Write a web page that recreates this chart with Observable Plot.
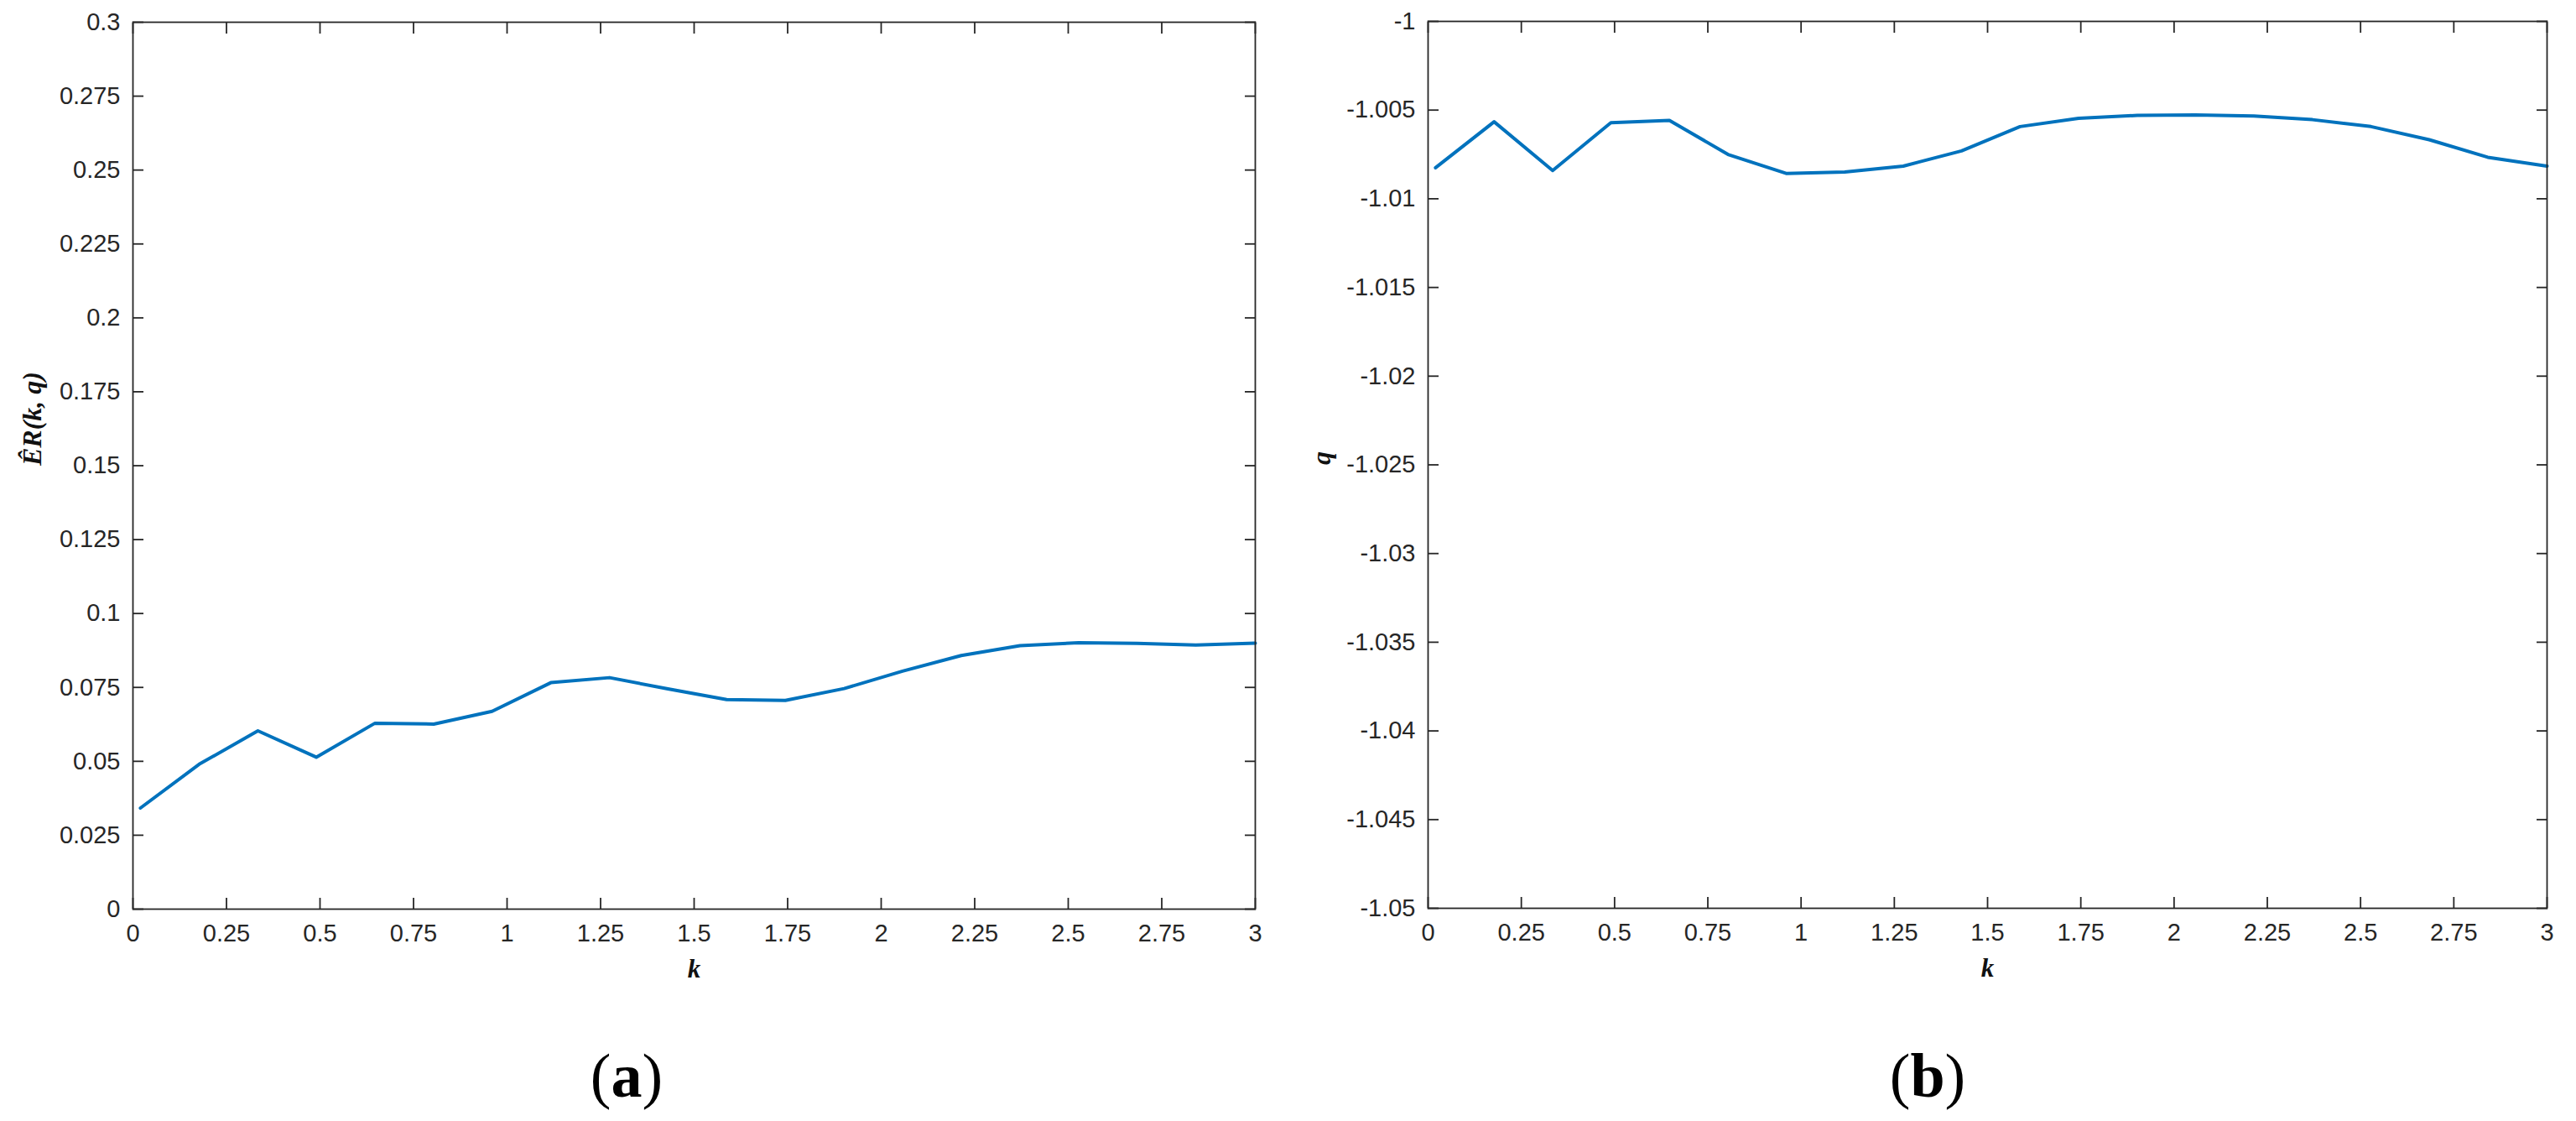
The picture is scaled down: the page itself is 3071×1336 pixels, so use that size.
<!DOCTYPE html>
<html>
<head>
<meta charset="utf-8">
<script src="https://cdn.jsdelivr.net/npm/d3@7"></script>
<script src="https://cdn.jsdelivr.net/npm/@observablehq/plot@0.6"></script>
<style>
  body { margin: 0; background: #fff; width: 3071px; height: 1336px; position: relative; overflow: hidden; }
  .panel { position: absolute; top: 0; }
  .cap { position: absolute; font-family: "Liberation Serif", "Times New Roman", serif; font-size: 74px; line-height: 1; transform: translateX(-50%); color: #000; white-space: nowrap; }
</style>
</head>
<body>
<div id="pa" class="panel" style="left:0px"></div>
<div id="pb" class="panel" style="left:1560px"></div>
<div class="cap" style="left:747px; top:1245px">(<b>a</b>)</div>
<div class="cap" style="left:2298px; top:1245px">(<b>b</b>)</div>
<script>
// ---- data ----
const kA = [0.02, 0.177, 0.334, 0.49, 0.647, 0.804, 0.96, 1.117, 1.274, 1.43, 1.587, 1.744, 1.901, 2.057, 2.214, 2.371, 2.528, 2.684, 2.841, 3.0];
const erA = [0.0342, 0.049, 0.0603, 0.0514, 0.0629, 0.0626, 0.0669, 0.0766, 0.0783, 0.0745, 0.0709, 0.0706, 0.0746, 0.0805, 0.0858, 0.0891, 0.0901, 0.0899, 0.0893, 0.0900];
const kB = [0.02, 0.177, 0.334, 0.49, 0.647, 0.804, 0.96, 1.117, 1.274, 1.43, 1.587, 1.744, 1.901, 2.057, 2.214, 2.371, 2.528, 2.684, 2.841, 3.0];
const qB = [-1.00825, -1.00566, -1.00841, -1.00571, -1.00558, -1.0075, -1.00857, -1.00849, -1.00816, -1.0073, -1.00593, -1.00546, -1.0053, -1.00527, -1.00533, -1.00554, -1.00593, -1.00667, -1.00766, -1.00816];
const xTicks = [0, 0.25, 0.5, 0.75, 1, 1.25, 1.5, 1.75, 2, 2.25, 2.5, 2.75, 3];
const yTicksA = [0, 0.025, 0.05, 0.075, 0.1, 0.125, 0.15, 0.175, 0.2, 0.225, 0.25, 0.275, 0.3];
const yTicksB = [-1.05, -1.045, -1.04, -1.035, -1.03, -1.025, -1.02, -1.015, -1.01, -1.005, -1];
const labelA = "ÊR(k, q)";
const labelB = "q";
const labelX = "k";

const INK = "#262626";
const LINE = "#0072BD";
const SANS = "'Liberation Sans', Arial, Helvetica, sans-serif";
const SERIF = "'Liberation Serif', 'Times New Roman', serif";

function panel({k, v, yDomain, yTicks, width, mLeft, mRight, mTop, mBottom, yLabel, yLabelDx}) {
  const data = k.map((d, i) => ({k: d, v: v[i]}));
  const fmt = d => String(d);
  const axStyle = {stroke: INK, fill: INK, strokeWidth: 1.8, fontSize: 29, fontFamily: SANS, label: null};
  return Plot.plot({
    width, height: 1180,
    marginLeft: mLeft, marginRight: mRight, marginTop: mTop, marginBottom: mBottom,
    x: {domain: [0, 3]},
    y: {domain: yDomain},
    style: {background: "white", overflow: "visible"},
    marks: [
      Plot.line(data, {x: "k", y: "v", stroke: LINE, strokeWidth: 4, strokeLinejoin: "round"}),
      Plot.frame({stroke: INK, strokeWidth: 1.8}),
      Plot.axisX(xTicks, {...axStyle, anchor: "bottom", tickSize: 0, tickPadding: 18, tickFormat: fmt}),
      Plot.axisX(xTicks, {...axStyle, anchor: "bottom", tickSize: -13, tickFormat: () => ""}),
      Plot.axisX(xTicks, {...axStyle, anchor: "top", tickSize: -13, tickFormat: () => ""}),
      Plot.axisY(yTicks, {...axStyle, anchor: "left", tickSize: 0, tickPadding: 15, tickFormat: fmt}),
      Plot.axisY(yTicks, {...axStyle, anchor: "left", tickSize: -13, tickFormat: () => ""}),
      Plot.axisY(yTicks, {...axStyle, anchor: "right", tickSize: -13, tickFormat: () => ""}),
      Plot.text([labelX], {frameAnchor: "bottom", dy: 72, lineAnchor: "middle", fontSize: 31, fontFamily: SERIF, fontStyle: "italic", fontWeight: "bold", fill: "#111"}),
      Plot.text([yLabel], {frameAnchor: "left", rotate: -90, dx: yLabelDx, lineAnchor: "middle", fontSize: 32, fontFamily: SERIF, fontStyle: "italic", fontWeight: "bold", fill: "#111"})
    ]
  });
}

document.getElementById("pa").append(panel({
  k: kA, v: erA, yDomain: [0, 0.3], yTicks: yTicksA,
  width: 1560, mLeft: 158, mRight: 64, mTop: 26, mBottom: 97,
  yLabel: labelA, yLabelDx: -120
}));
document.getElementById("pb").append(panel({
  k: kB, v: qB, yDomain: [-1.05, -1], yTicks: yTicksB,
  width: 1511, mLeft: 142, mRight: 35, mTop: 25, mBottom: 98,
  yLabel: labelB, yLabelDx: -127
}));
</script>
</body>
</html>
